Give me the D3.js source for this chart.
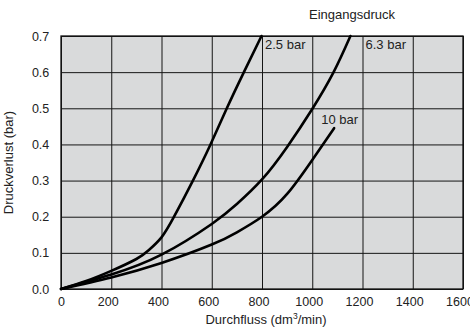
<!DOCTYPE html>
<html>
<head>
<meta charset="utf-8">
<script src="https://cdn.jsdelivr.net/npm/d3@7"></script>
<style>
  html, body { margin: 0; padding: 0; background: #fff; }
  svg text { font-family: "Liberation Sans", Arial, Helvetica, sans-serif; fill: #222; }
</style>
</head>
<body>
<div id="chart"></div>
<script>
// flow (dm3/min) vs pressure loss (bar), one list per inlet pressure
const flow25 = [0, 100, 200, 300, 350, 400, 450, 525, 595, 660, 728, 798];
const loss25 = [0, 0.022, 0.05, 0.083, 0.108, 0.143, 0.2, 0.3, 0.4, 0.5, 0.6, 0.7];

const flow63 = [0, 200, 400, 600, 700, 800, 900, 1000, 1085, 1152];
const loss63 = [0, 0.04, 0.095, 0.18, 0.235, 0.303, 0.393, 0.498, 0.6, 0.7];

const flow10 = [0, 200, 400, 600, 700, 800, 900, 1000, 1087];
const loss10 = [0, 0.032, 0.072, 0.123, 0.157, 0.2, 0.263, 0.357, 0.445];

const seriesNames = ['2.5 bar', '6.3 bar', '10 bar'];
const xTicks = [0, 200, 400, 600, 800, 1000, 1200, 1400, 1600];
const yTicks = [0, 0.1, 0.2, 0.3, 0.4, 0.5, 0.6, 0.7];

const width = 470, height = 328;
const mLeft = 61, mRight = 463, mTop = 36, mBottom = 289;

let svg = d3.select('#chart').append('svg')
  .attr('width', width)
  .attr('height', height);

let x = d3.scaleLinear().domain([0, 1600]).range([mLeft, mRight]);
let y = d3.scaleLinear().domain([0, 0.7]).range([mBottom, mTop]);

svg.append('rect')
  .attr('x', mLeft).attr('y', mTop)
  .attr('width', mRight - mLeft).attr('height', mBottom - mTop)
  .attr('fill', '#d9dadb');

// grid lines
svg.append('g')
  .attr('transform', `translate(0,${mBottom})`)
  .call(d3.axisBottom(x).tickValues(xTicks).tickSize(-(mBottom - mTop)).tickFormat(''))
  .call(g => g.select('.domain').remove())
  .call(g => g.selectAll('line').attr('stroke', '#151515').attr('stroke-width', 1));

svg.append('g')
  .attr('transform', `translate(${mLeft},0)`)
  .call(d3.axisLeft(y).tickValues(yTicks).tickSize(-(mRight - mLeft)).tickFormat(''))
  .call(g => g.select('.domain').remove())
  .call(g => g.selectAll('line').attr('stroke', '#151515').attr('stroke-width', 1));

svg.append('rect')
  .attr('x', mLeft).attr('y', mTop)
  .attr('width', mRight - mLeft).attr('height', mBottom - mTop)
  .attr('fill', 'none')
  .attr('stroke', '#111')
  .attr('stroke-width', 1.3);

// tick labels
svg.append('g')
  .attr('transform', `translate(0,${mBottom})`)
  .call(d3.axisBottom(x).tickValues(xTicks).tickSize(0).tickPadding(8).tickFormat(d3.format('d')))
  .call(g => g.select('.domain').remove())
  .call(g => g.selectAll('text').attr('font-size', 12.5).attr('fill', '#222')
    .attr('dx', d => d ? -3.5 : 0)
    .attr('font-family', '"Liberation Sans", Arial, sans-serif'));

svg.append('g')
  .attr('transform', `translate(${mLeft},0)`)
  .call(d3.axisLeft(y).tickValues(yTicks).tickSize(0).tickPadding(11.7).tickFormat(d3.format('.1f')))
  .call(g => g.select('.domain').remove())
  .call(g => g.selectAll('text').attr('font-size', 12.5).attr('fill', '#222')
    .attr('font-family', '"Liberation Sans", Arial, sans-serif'));

// curves
let line = d3.line()
  .x(d => x(d[0]))
  .y(d => y(d[1]))
  .curve(d3.curveNatural);

let series = [
  d3.zip(flow25, loss25),
  d3.zip(flow63, loss63),
  d3.zip(flow10, loss10)
];

svg.append('g')
  .selectAll('path')
  .data(series)
  .join('path')
  .attr('d', line)
  .attr('fill', 'none')
  .attr('stroke', '#000')
  .attr('stroke-width', 2.6)
  .attr('stroke-linecap', 'round');

// curve labels
let labelPos = [[812, 0.665], [1212, 0.665], [1036, 0.457]];
svg.append('g')
  .selectAll('text')
  .data(seriesNames)
  .join('text')
  .attr('x', (d, i) => x(labelPos[i][0]))
  .attr('y', (d, i) => y(labelPos[i][1]))
  .attr('font-size', 13)
  .text(d => d);

svg.append('text')
  .attr('x', 352).attr('y', 18.5)
  .attr('text-anchor', 'middle')
  .attr('font-size', 13)
  .text('Eingangsdruck');

// axis titles
let xTitle = svg.append('text')
  .attr('x', 266).attr('y', 324)
  .attr('text-anchor', 'middle')
  .attr('font-size', 13);
xTitle.append('tspan').text('Durchfluss (dm');
xTitle.append('tspan').attr('font-size', 8.5).attr('dy', -5).text('3');
xTitle.append('tspan').attr('dy', 5).text('/min)');

svg.append('text')
  .attr('transform', `translate(13,${(mTop + mBottom) / 2}) rotate(-90)`)
  .attr('text-anchor', 'middle')
  .attr('font-size', 13)
  .text('Druckverlust (bar)');
</script>
</body>
</html>
